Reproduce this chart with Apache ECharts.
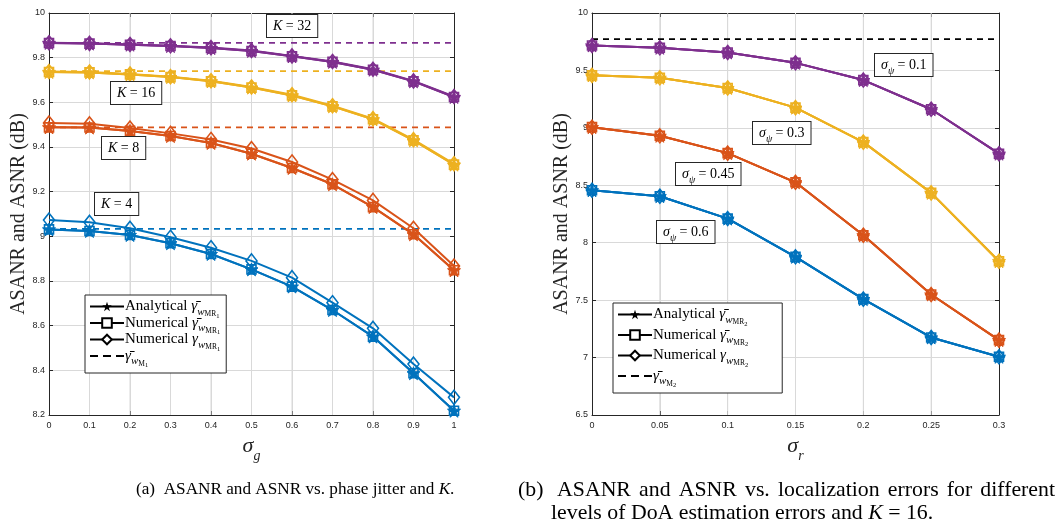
<!DOCTYPE html>
<html><head><meta charset="utf-8">
<script src="https://cdn.jsdelivr.net/npm/echarts@6/dist/echarts.min.js"></script>
<style>html,body{margin:0;padding:0;background:#fff}#c{width:1057px;height:524px}</style>
</head><body><div id="c"></div><script>
// ---------- data: panel (a) ----------
const sigmaG = [0, 0.1, 0.2, 0.3, 0.4, 0.5, 0.6, 0.7, 0.8, 0.9, 1];
const k32Ana = [9.866, 9.863, 9.858, 9.852, 9.843, 9.830, 9.806, 9.781, 9.746, 9.694, 9.624];
const k32NumSq = [9.866, 9.863, 9.858, 9.852, 9.843, 9.830, 9.806, 9.781, 9.746, 9.694, 9.624];
const k32NumDia = [9.867, 9.864, 9.859, 9.853, 9.845, 9.832, 9.808, 9.783, 9.748, 9.696, 9.626];
const k32Bound = [9.866, 9.866, 9.866, 9.866, 9.866, 9.866, 9.866, 9.866, 9.866, 9.866, 9.866];
const k16Ana = [9.736, 9.734, 9.725, 9.713, 9.694, 9.666, 9.631, 9.582, 9.524, 9.430, 9.321];
const k16NumSq = [9.736, 9.734, 9.725, 9.713, 9.694, 9.666, 9.631, 9.582, 9.524, 9.430, 9.321];
const k16NumDia = [9.738, 9.736, 9.727, 9.715, 9.697, 9.669, 9.634, 9.585, 9.527, 9.433, 9.325];
const k16Bound = [9.740, 9.740, 9.740, 9.740, 9.740, 9.740, 9.740, 9.740, 9.740, 9.740, 9.740];
const k8Ana = [9.488, 9.487, 9.472, 9.449, 9.418, 9.370, 9.306, 9.233, 9.131, 9.009, 8.848];
const k8NumSq = [9.488, 9.487, 9.472, 9.449, 9.418, 9.370, 9.306, 9.233, 9.131, 9.009, 8.848];
const k8NumDia = [9.507, 9.504, 9.485, 9.461, 9.434, 9.393, 9.333, 9.254, 9.161, 9.036, 8.867];
const k8Bound = [9.488, 9.488, 9.488, 9.488, 9.488, 9.488, 9.488, 9.488, 9.488, 9.488, 9.488];
const k4Ana = [9.031, 9.024, 9.006, 8.969, 8.921, 8.852, 8.775, 8.670, 8.551, 8.387, 8.219];
const k4NumSq = [9.031, 9.024, 9.006, 8.969, 8.921, 8.852, 8.775, 8.670, 8.551, 8.387, 8.219];
const k4NumDia = [9.073, 9.063, 9.036, 8.996, 8.949, 8.890, 8.815, 8.703, 8.588, 8.428, 8.279];
const k4Bound = [9.033, 9.033, 9.033, 9.033, 9.033, 9.033, 9.033, 9.033, 9.033, 9.033, 9.033];
const kValues = ['32', '16', '8', '4'];
const yRangeA = [8.2, 10];

// ---------- data: panel (b) ----------
const sigmaR = [0, 0.05, 0.1, 0.15, 0.2, 0.25, 0.3];
const psi01 = [9.717, 9.697, 9.656, 9.566, 9.416, 9.162, 8.775];
const psi03 = [9.457, 9.436, 9.347, 9.176, 8.876, 8.434, 7.839];
const psi045 = [9.006, 8.931, 8.780, 8.526, 8.065, 7.549, 7.152];
const psi06 = [8.457, 8.405, 8.210, 7.877, 7.509, 7.175, 7.007];
const boundM2 = [9.773, 9.773, 9.773, 9.773, 9.773, 9.773, 9.773];
const psiValues = ['0.1', '0.3', '0.45', '0.6'];
const yRangeB = [6.5, 10];

// ---------- styling ----------
const C = { blue: '#0072BD', orange: '#D95319', yellow: '#EDB120', purple: '#7E2F8E' };
const STAR = 'path://M50,0 L61.2,34.5 L97.6,34.5 L68.2,55.9 L79.4,90.5 L50,69.1 L20.6,90.5 L31.8,55.9 L2.4,34.5 L38.8,34.5 Z';
const DASHICON = 'path://M0,0 L8,0 L8,2 L0,2 Z M13,0 L21,0 L21,2 L13,2 Z M26,0 L34,0 L34,2 L26,2 Z';
const SERIF = 'Liberation Serif';
const SANS = 'Liberation Sans';
const ink = '#262626';
const gridColor = '#d9d9d9';

function pairs(xs, ys) { return xs.map((x, i) => [x, ys[i]]); }

function curve(xs, ys, color, kind, xi, yi) {
  const base = { type: 'line', xAxisIndex: xi, yAxisIndex: yi, data: pairs(xs, ys), silent: true,
    lineStyle: { color: color, width: 2 }, color: color, showAllSymbol: true };
  if (kind === 'star') return Object.assign(base, { symbol: STAR, symbolSize: 13, z: 5,
    itemStyle: { color: color, borderColor: color, borderWidth: 1 } });
  if (kind === 'sq') return Object.assign(base, { symbol: 'rect', symbolSize: 9, z: 4,
    itemStyle: { color: 'rgba(255,255,255,0)', borderColor: color, borderWidth: 1.6 } });
  if (kind === 'dia') return Object.assign(base, { symbol: 'diamond', symbolSize: [11, 14], z: 3,
    itemStyle: { color: 'rgba(255,255,255,0)', borderColor: color, borderWidth: 1.6 } });
  return Object.assign(base, { symbol: 'none', z: 2, lineStyle: { color: color, width: 1.8, type: [6, 5] } });
}

// vertical grid lines at the inner x ticks, drawn through the axis scales
function vGrid(ticks, yRange, xi, yi) {
  return ticks.slice(1, -1).map(v => ({ type: 'line', xAxisIndex: xi, yAxisIndex: yi, silent: true, z: 1,
    symbol: 'none', data: [[v, yRange[0]], [v, yRange[1]]],
    lineStyle: { color: gridColor, width: 1, type: 'solid' } }));
}

function legendSeries(name, kind, xi, yi) {
  const s = { type: 'line', name: name, xAxisIndex: xi, yAxisIndex: yi, data: [], color: '#000',
    lineStyle: { color: '#000', width: 2 } };
  if (kind === 'star') Object.assign(s, { symbol: STAR, itemStyle: { color: '#000', borderColor: '#000' } });
  if (kind === 'sq') Object.assign(s, { symbol: 'rect', itemStyle: { color: '#fff', borderColor: '#000', borderWidth: 1.6 } });
  if (kind === 'dia') Object.assign(s, { symbol: 'diamond', itemStyle: { color: '#fff', borderColor: '#000', borderWidth: 1.6 } });
  if (kind === 'dash') Object.assign(s, { symbol: 'none', itemStyle: { color: '#000' }, lineStyle: { color: '#000', width: 2, type: [6, 4] } });
  return s;
}

const series = [...vGrid(sigmaG, yRangeA, 0, 0), ...vGrid(sigmaR, yRangeB, 2, 2)];
// panel (a)
[[k32Ana, k32NumSq, k32NumDia, k32Bound, C.purple], [k16Ana, k16NumSq, k16NumDia, k16Bound, C.yellow],
 [k8Ana, k8NumSq, k8NumDia, k8Bound, C.orange], [k4Ana, k4NumSq, k4NumDia, k4Bound, C.blue]].forEach(g => {
  series.push(curve(sigmaG, g[3], g[4], 'dash', 0, 0));
  series.push(curve(sigmaG, g[2], g[4], 'dia', 0, 0));
  series.push(curve(sigmaG, g[1], g[4], 'sq', 0, 0));
  series.push(curve(sigmaG, g[0], g[4], 'star', 0, 0));
});
// panel (b)
series.push(curve(sigmaR, boundM2, '#000', 'dash', 2, 2));
[[psi01, C.purple], [psi03, C.yellow], [psi045, C.orange], [psi06, C.blue]].forEach(g => {
  series.push(curve(sigmaR, g[0], g[1], 'dia', 2, 2));
  series.push(curve(sigmaR, g[0], g[1], 'sq', 2, 2));
  series.push(curve(sigmaR, g[0], g[1], 'star', 2, 2));
});
// legend entries
series.push(legendSeries('A1', 'star', 0, 0), legendSeries('S1', 'sq', 0, 0), legendSeries('D1', 'dia', 0, 0), legendSeries('M1', 'dash', 0, 0));
series.push(legendSeries('A2', 'star', 2, 2), legendSeries('S2', 'sq', 2, 2), legendSeries('D2', 'dia', 2, 2), legendSeries('M2', 'dash', 2, 2));

const legText = {
  A1: '{n|Analytical }{g|γ̄}{s|w}{ss|MR}{sss|1}',
  S1: '{n|Numerical }{g|γ̄}{s|w}{ss|MR}{sss|1}',
  D1: '{n|Numerical }{g|γ}{s|w}{ss|MR}{sss|1}',
  M1: '{g|γ̄}{s|w}{ss|M}{sss|1}',
  A2: '{n|Analytical }{g|γ̄}{s|w}{ss|MR}{sss|2}',
  S2: '{n|Numerical }{g|γ̄}{s|w}{ss|MR}{sss|2}',
  D2: '{n|Numerical }{g|γ}{s|w}{ss|MR}{sss|2}',
  M2: '{g|γ̄}{s|w}{ss|M}{sss|2}'
};
const legRich = {
  n: { fontFamily: SERIF, fontSize: 15, color: '#000', lineHeight: 16, verticalAlign: 'middle' },
  g: { fontFamily: SERIF, fontSize: 15, fontStyle: 'italic', color: '#000', lineHeight: 16, verticalAlign: 'middle' },
  s: { fontFamily: SERIF, fontSize: 11, fontStyle: 'italic', color: '#000', verticalAlign: 'bottom', lineHeight: 11, padding: [0, 0, -3, 0] },
  ss: { fontFamily: SERIF, fontSize: 7.5, color: '#000', verticalAlign: 'bottom', lineHeight: 8, padding: [0, 0, -4, 0] },
  sss: { fontFamily: SERIF, fontSize: 6.5, color: '#000', verticalAlign: 'bottom', lineHeight: 7, padding: [0, 0, -5, 0] }
};
function makeLegend(names, left, top, gap, padRight) {
  return { data: names.map((n, i) => i === 3 ? { name: n, icon: DASHICON, itemStyle: { color: '#000' } } : n),
    orient: 'vertical', left: left, top: top, itemWidth: 34, itemHeight: 12, itemGap: gap,
    symbolKeepAspect: true, z: 10,
    backgroundColor: '#fff', borderColor: ink, borderWidth: 1, borderRadius: 0, padding: [4, padRight, 4, 4],
    selectedMode: false, formatter: n => legText[n], textStyle: { rich: legRich, padding: [0, 0, 0, -4] } };
}

function xAxisDef(grid, max, interval, sub, pos) {
  const bottom = pos === 'bottom';
  return { type: 'value', gridIndex: grid, position: pos, min: 0, max: max, interval: interval,
    name: bottom ? '{i|σ}{s|' + sub + '}' : '', nameLocation: 'middle', nameGap: 20,
    nameTextStyle: { rich: { i: { fontFamily: SERIF, fontStyle: 'italic', fontSize: 22, color: ink },
      s: { fontFamily: SERIF, fontStyle: 'italic', fontSize: 14, color: ink, verticalAlign: 'bottom', padding: [0, 0, -6, 0] } } },
    axisLine: { show: true, onZero: false, lineStyle: { color: ink, width: 1 } },
    axisTick: { show: true, inside: true, length: 4, lineStyle: { color: ink } },
    axisLabel: { show: bottom, color: ink, fontFamily: SANS, fontSize: 9, margin: 6,
      formatter: v => String(+v.toFixed(2)) },
    splitLine: { show: bottom, lineStyle: { color: gridColor, width: 1, type: 'solid' } } };
}
function yAxisDef(grid, range, interval, pos) {
  const left = pos === 'left';
  return { type: 'value', gridIndex: grid, position: pos, min: range[0], max: range[1], interval: interval,
    name: left ? 'ASANR and ASNR (dB)' : '', nameLocation: 'middle', nameGap: 20,
    nameTextStyle: { fontFamily: SERIF, fontSize: 20, color: ink },
    axisLine: { show: true, onZero: false, lineStyle: { color: ink, width: 1 } },
    axisTick: { show: true, inside: true, length: 4, lineStyle: { color: ink } },
    axisLabel: { show: left, color: ink, fontFamily: SANS, fontSize: 9, margin: 4,
      formatter: v => String(+v.toFixed(2)) },
    splitLine: { show: left, lineStyle: { color: gridColor, width: 1 } } };
}

const boxRich = {
  i: { fontFamily: SERIF, fontSize: 14, fontStyle: 'italic', color: '#000', lineHeight: 17 },
  n: { fontFamily: SERIF, fontSize: 14, color: '#000', lineHeight: 17 },
  s: { fontFamily: SERIF, fontSize: 10, fontStyle: 'italic', color: '#000', verticalAlign: 'bottom', lineHeight: 10, padding: [0, 0, -2, 0] }
};
function boxText(x, y, txt) {
  return { type: 'text', x: x, y: y, z: 50, style: { text: txt, rich: boxRich,
    backgroundColor: '#fff', borderColor: ink, borderWidth: 1, padding: [3, 6, 2, 6] } };
}

// captions
function capRich(size) {
  return { n: { fontFamily: SERIF, fontSize: size, color: '#111' },
           i: { fontFamily: SERIF, fontSize: size, fontStyle: 'italic', color: '#111' } };
}
function caption(x, y, txt, size) {
  return { type: 'text', x: x, y: y, style: { text: txt, rich: capRich(size), verticalAlign: 'middle' } };
}
// justified line (LaTeX-style): spread words between x0 and x1
function justified(x0, x1, y, words, size) {
  const ctx = document.createElement('canvas').getContext('2d');
  ctx.font = size + 'px "' + SERIF + '"';
  const widths = words.map(w => ctx.measureText(w).width);
  const total = widths.reduce((a, b) => a + b, 0);
  const gap = (x1 - x0 - total) / (words.length - 1);
  let x = x0;
  return words.map((w, i) => { const el = caption(x, y, '{n|' + w + '}', size); x += widths[i] + gap; return el; });
}
const CAP_A = 17.2, CAP_B = 21.8;
const capA = '{n|(a)  ASANR and ASNR vs. phase jitter and }{i|K}{n|.}';
const capB1 = ['(b)', ' ASANR', 'and', 'ASNR', 'vs.', 'localization', 'errors', 'for', 'different'];
const capB2 = '{n|levels of DoA estimation errors and }{i|K}{n| = 16.}';

const option = {
  animation: false,
  backgroundColor: '#fff',
  grid: [
    { left: 49, top: 13, width: 405, height: 402, show: false },
    { left: 592, top: 13, width: 407, height: 402, show: false }
  ],
  xAxis: [xAxisDef(0, 1, 0.1, 'g', 'bottom'), xAxisDef(0, 1, 0.1, 'g', 'top'),
          xAxisDef(1, 0.3, 0.05, 'r', 'bottom'), xAxisDef(1, 0.3, 0.05, 'r', 'top')],
  yAxis: [yAxisDef(0, yRangeA, 0.2, 'left'), yAxisDef(0, yRangeA, 0.2, 'right'),
          yAxisDef(1, yRangeB, 0.5, 'left'), yAxisDef(1, yRangeB, 0.5, 'right')],
  legend: [makeLegend(['A1', 'S1', 'D1', 'M1'], 85, 295, -4, 6), makeLegend(['A2', 'S2', 'D2', 'M2'], 613, 303, 0, 34)],
  series: series,
  graphic: [
    boxText(267, 15, '{i|K}{n| = ' + kValues[0] + '}'),
    boxText(111, 82, '{i|K}{n| = ' + kValues[1] + '}'),
    boxText(102, 137, '{i|K}{n| = ' + kValues[2] + '}'),
    boxText(95, 193, '{i|K}{n| = ' + kValues[3] + '}'),
    boxText(875, 54, '{i|σ}{s|ψ}{n| = ' + psiValues[0] + '}'),
    boxText(753, 122, '{i|σ}{s|ψ}{n| = ' + psiValues[1] + '}'),
    boxText(676, 163, '{i|σ}{s|ψ}{n| = ' + psiValues[2] + '}'),
    boxText(657, 221, '{i|σ}{s|ψ}{n| = ' + psiValues[3] + '}'),
    caption(136, 489, capA, CAP_A),
    ...justified(518, 1055, 490, capB1, CAP_B),
    caption(551, 513, capB2, CAP_B)
  ]
};
const chart = echarts.init(document.getElementById('c'), null, { renderer: 'canvas' });
chart.setOption(option);
</script></body></html>
